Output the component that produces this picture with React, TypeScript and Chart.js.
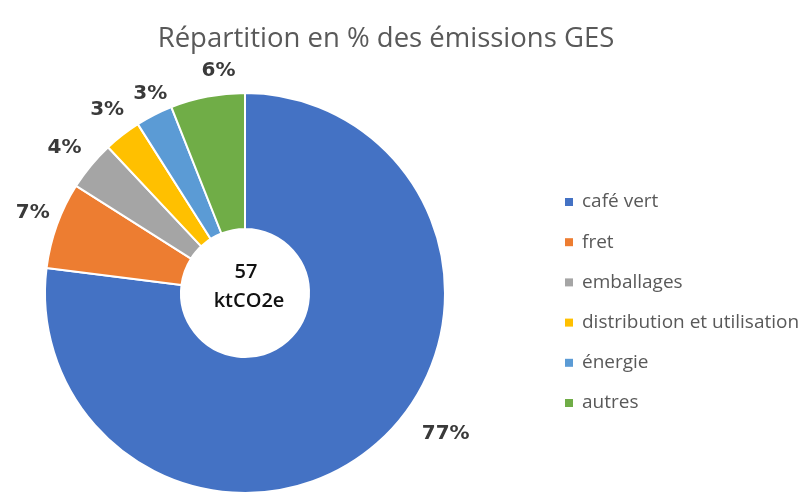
import React, { useEffect, useRef } from "react";
import { Chart, registerables } from "chart.js";

Chart.register(...registerables);

const chartTitle = "Répartition en % des émissions GES";
const categories = [
  "café vert",
  "fret",
  "emballages",
  "distribution et utilisation",
  "énergie",
  "autres",
];
const shares = [77, 7, 4, 3, 3, 6];
const percentLabels = ["77%", "7%", "4%", "3%", "3%", "6%"];
const centerLines = ["57", "ktCO2e"];
const sliceColors = ["#4472C4", "#ED7D31", "#A5A5A5", "#FFC000", "#5B9BD5", "#70AD47"];

// label placement tweaks (style only)
const labelAngleShift = [-13.6, 1, -0.7, 0.8, 1.6, 4];
const labelDist = [45, 27, 32, 29, 21, 24];

const textFont = "'Open Sans', 'Noto Sans', sans-serif";

const overlayPlugin = {
  id: "overlay",
  afterDraw(chart: any) {
    const ctx = chart.ctx as CanvasRenderingContext2D;
    const meta = chart.getDatasetMeta(0);
    ctx.save();

    // Title
    ctx.fillStyle = "#595959";
    ctx.font = `27.5px ${textFont}`;
    ctx.textAlign = "center";
    ctx.textBaseline = "middle";
    ctx.fillText(chartTitle, 386, 39);

    // Percent labels
    ctx.font = "bold 20px 'DejaVu Sans', sans-serif";
    ctx.fillStyle = "#3a3a3a";
    meta.data.forEach((arc: any, i: number) => {
      const p = arc.getProps(["x", "y", "startAngle", "endAngle", "outerRadius"], true);
      const mid = (p.startAngle + p.endAngle) / 2 + (labelAngleShift[i] * Math.PI) / 180;
      const r = p.outerRadius + labelDist[i];
      ctx.fillText(percentLabels[i], p.x + Math.cos(mid) * r, p.y + Math.sin(mid) * r);
    });

    // Center text
    if (meta.data.length) {
      const c = meta.data[0].getProps(["x", "y"], true);
      ctx.fillStyle = "#111111";
      ctx.font = `600 20px ${textFont}`;
      ctx.fillText(centerLines[0], c.x + 1, c.y - 21);
      ctx.fillText(centerLines[1], c.x + 4, c.y + 8);
    }

    // Legend
    ctx.font = `19px ${textFont}`;
    ctx.textAlign = "left";
    categories.forEach((name, i) => {
      const y = 202 + i * 40.2;
      ctx.fillStyle = sliceColors[i];
      ctx.fillRect(565, y - 4, 8, 8);
      ctx.fillStyle = "#595959";
      ctx.fillText(name, 582, y);
    });

    ctx.restore();
  },
};

export default function App() {
  const canvasRef = useRef<HTMLCanvasElement | null>(null);

  useEffect(() => {
    if (!canvasRef.current) return;
    const chart = new Chart(canvasRef.current, {
      type: "doughnut",
      data: {
        labels: categories,
        datasets: [
          {
            data: shares,
            backgroundColor: sliceColors,
            borderColor: "#ffffff",
            borderWidth: 2,
          },
        ],
      },
      options: {
        responsive: false,
        animation: false,
        cutout: "32%",
        layout: { padding: { left: 44, right: 356, top: 92, bottom: 4 } },
        plugins: {
          legend: { display: false },
          title: { display: false },
          tooltip: { enabled: false },
        },
      },
      plugins: [overlayPlugin],
    });
    return () => chart.destroy();
  }, []);

  return (
    <div style={{ position: "fixed", left: 0, top: 0, width: 802, height: 498, background: "#fff" }}>
      <canvas ref={canvasRef} width={802} height={498} />
    </div>
  );
}
